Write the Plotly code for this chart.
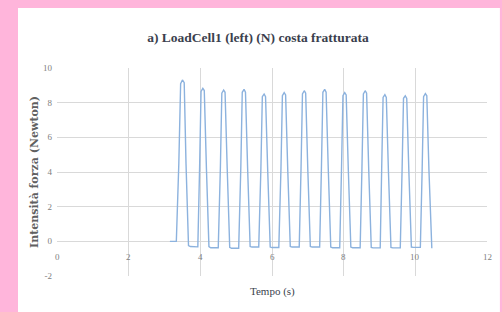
import plotly.graph_objects as go

title_text = "a) LoadCell1 (left) (N) costa fratturata"
x_title = "Tempo (s)"
y_title = "Intensità forza (Newton)"

x_ticks = [0, 2, 4, 6, 8, 10, 12]
y_ticks = [-2, 0, 2, 4, 6, 8, 10]

time_s = [
    3.15, 3.33, 3.40, 3.45, 3.50, 3.55, 3.60, 3.67, 3.72, 3.93,
    3.98, 4.02, 4.07, 4.11, 4.17, 4.24, 4.29, 4.50,
    4.56, 4.60, 4.65, 4.69, 4.75, 4.82, 4.87, 5.07,
    5.13, 5.17, 5.22, 5.26, 5.32, 5.39, 5.44, 5.63,
    5.69, 5.73, 5.78, 5.82, 5.88, 5.95, 6.00, 6.19,
    6.25, 6.29, 6.34, 6.38, 6.44, 6.51, 6.56, 6.76,
    6.81, 6.85, 6.90, 6.94, 7.00, 7.07, 7.12, 7.33,
    7.38, 7.42, 7.47, 7.51, 7.57, 7.64, 7.69, 7.89,
    7.94, 7.98, 8.03, 8.07, 8.13, 8.20, 8.25, 8.46,
    8.51, 8.55, 8.60, 8.64, 8.70, 8.77, 8.82, 9.02,
    9.06, 9.10, 9.15, 9.19, 9.25, 9.32, 9.37, 9.58,
    9.63, 9.67, 9.72, 9.76, 9.82, 9.89, 9.94, 10.14,
    10.19, 10.23, 10.28, 10.32, 10.38, 10.46,
]
force_n = [
    0.0, 0.0, 4.5, 9.1, 9.31, 9.15, 4.5, -0.25, -0.30, -0.32,
    4.3, 8.65, 8.83, 8.70, 4.2, -0.30, -0.37, -0.37,
    4.3, 8.55, 8.73, 8.60, 4.2, -0.35, -0.40, -0.40,
    4.3, 8.60, 8.77, 8.60, 4.2, -0.30, -0.33, -0.33,
    4.2, 8.35, 8.50, 8.35, 4.1, -0.33, -0.36, -0.36,
    4.2, 8.40, 8.58, 8.45, 4.1, -0.30, -0.33, -0.33,
    4.2, 8.50, 8.69, 8.55, 4.1, -0.30, -0.33, -0.33,
    4.3, 8.60, 8.77, 8.60, 4.2, -0.33, -0.37, -0.37,
    4.2, 8.40, 8.58, 8.45, 4.1, -0.33, -0.37, -0.37,
    4.2, 8.50, 8.69, 8.55, 4.1, -0.35, -0.38, -0.38,
    4.1, 8.30, 8.46, 8.30, 4.0, -0.35, -0.38, -0.38,
    4.1, 8.25, 8.40, 8.25, 4.0, -0.33, -0.35, -0.35,
    4.1, 8.35, 8.52, 8.40, 4.1, -0.40,
]

PINK = "#FFB5DB"

fig = go.Figure()
fig.add_trace(go.Scatter(
    x=time_s, y=force_n, mode="lines",
    line=dict(color="#8CB2DE", width=1.4),
    showlegend=False, hoverinfo="skip",
))

grid = "#D9D9D9"
tick_font = dict(family="Liberation Serif", size=9, color="#808080")

# x tick labels sit next to the horizontal axis line at y = 0 (Excel style)
x_label_annotations = [
    dict(text=str(v), x=v, y=0, xref="x", yref="y", xanchor="center", yanchor="top",
         yshift=-9, showarrow=False, font=tick_font)
    for v in x_ticks
]

fig.update_layout(
    width=502, height=312,
    margin=dict(l=57, r=15, t=68, b=36, autoexpand=False),
    paper_bgcolor=PINK,
    plot_bgcolor="white",
    shapes=[dict(type="rect", xref="paper", yref="paper",
                 x0=-0.0907, x1=1.03, y0=-0.2, y1=1.288,
                 fillcolor="white", line=dict(width=0), layer="below")],
    title=dict(text="<b>" + title_text + "</b>", x=0.514, xref="container",
               xanchor="center", y=0.88, yanchor="middle",
               font=dict(family="Liberation Serif", size=13.5, color="#3B3F4E")),
    xaxis=dict(range=[0, 12], tickvals=x_ticks, showticklabels=False,
               showgrid=True, gridcolor=grid, gridwidth=1, zeroline=False,
               ticks="", showline=False, automargin=False),
    yaxis=dict(range=[-2, 10], tickvals=y_ticks, ticktext=[str(v) for v in y_ticks],
               showgrid=True, gridcolor=grid, gridwidth=1, zeroline=True,
               zerolinecolor=grid, zerolinewidth=1, ticks="", tickfont=tick_font,
               ticklabelstandoff=4, showline=False, automargin=False,
               title=dict(text="<b>" + y_title + "</b>", standoff=2,
                          font=dict(family="DejaVu Serif", size=11, color="#606060"))),
    annotations=x_label_annotations + [
        dict(text=x_title, xref="paper", yref="paper", x=0.5, y=-0.035,
             xanchor="center", yanchor="top", showarrow=False,
             font=dict(family="Liberation Serif", size=11, color="#3B3F4E"))],
)

fig.write_html(
    "out.html",
    config={"displayModeBar": False, "staticPlot": True},
    post_script="document.body.style.margin='0';document.body.style.overflow='hidden';"
                "document.body.style.background='" + PINK + "';",
)
